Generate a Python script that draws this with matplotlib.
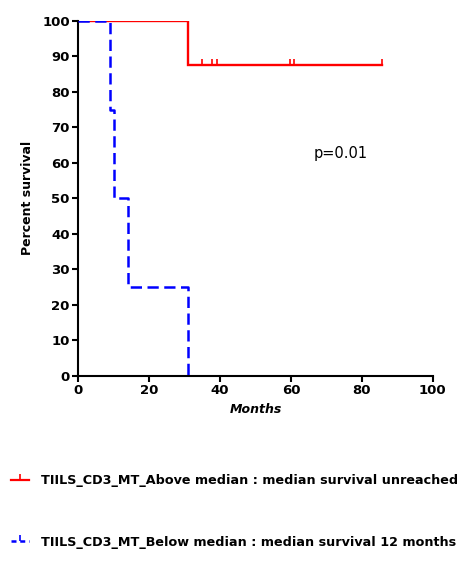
import matplotlib.pyplot as plt
from matplotlib.lines import Line2D

# Kaplan-Meier steps
above_t = [0, 31, 31, 85.7]
above_s = [100, 100, 87.5, 87.5]
above_cens_t = [34.8, 37.8, 39.0, 59.8, 60.8, 85.7]
above_cens_s = [87.5, 87.5, 87.5, 87.5, 87.5, 87.5]

below_t = [0, 9, 9, 10, 10, 14, 14, 31, 31]
below_s = [100, 100, 75, 75, 50, 50, 25, 25, 0]

labels = ["TIILS_CD3_MT_Above median : median survival unreached",
          "TIILS_CD3_MT_Below median : median survival 12 months"]

plt.rcParams['font.family'] = 'DejaVu Sans'
plt.rcParams['font.weight'] = 'bold'

fig = plt.figure(figsize=(4.71, 5.66), dpi=100)
ax = fig.add_axes([0.166, 0.336, 0.753, 0.627])

ax.plot(above_t, above_s, color='red', lw=1.7, solid_joinstyle='miter', zorder=2)
ax.plot(above_cens_t, above_cens_s, color='red', lw=0, marker=2, markersize=4,
        markeredgewidth=1.2, zorder=2)
ax.plot(below_t, below_s, color='blue', lw=1.8, dashes=(4.5, 2.2), zorder=3)

ax.set_xlim(0, 100)
ax.set_ylim(0, 100)
ax.set_xticks(range(0, 101, 20))
ax.set_yticks(range(0, 101, 10))
for s in ['top', 'right']:
    ax.spines[s].set_visible(False)
for s in ['left', 'bottom']:
    ax.spines[s].set_linewidth(1.5)
ax.tick_params(width=1.5, length=4, labelsize=9.5, pad=2)
for lab in ax.get_xticklabels() + ax.get_yticklabels():
    lab.set_fontweight('bold')

ax.set_xlabel("Months", fontsize=9, fontweight='bold', fontstyle='italic', labelpad=4)
ax.set_ylabel("Percent survival", fontsize=9, fontweight='bold', labelpad=6)
ax.text(66.5, 61.5, "p=0.01", fontsize=10.5, fontweight='normal')

handles = [Line2D([], [], color='red', lw=1.6, marker=2, markersize=4, markeredgewidth=1.2),
           Line2D([], [], color='blue', lw=1.8, dashes=(2, 1.5), marker=2, markersize=4,
                  markeredgewidth=1.2)]
fig.legend(handles, labels, loc='upper left', bbox_to_anchor=(0.012, 0.171),
           frameon=False, fontsize=9.2, handlelength=1.4, handletextpad=0.95,
           labelspacing=3.8, borderaxespad=0)

fig.savefig('out.png', dpi=100)
